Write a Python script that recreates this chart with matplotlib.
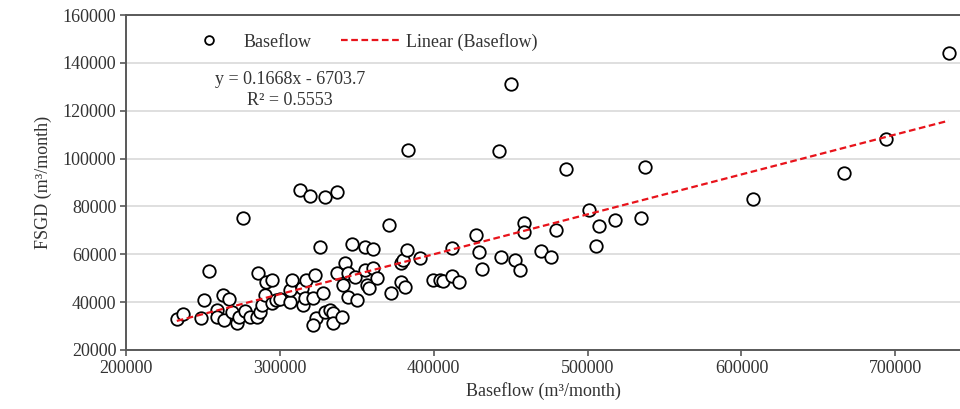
import numpy as np
import matplotlib
matplotlib.use("Agg")
import matplotlib.pyplot as plt

# scatter data (m3/month)
baseflow = [
    233000, 237000, 249000, 251000, 254000, 259000, 259000, 263000, 264000, 267000,
    268600, 272000, 273600, 276200, 277300, 280500, 285300, 287000, 285900, 288100,
    290300, 291300, 294600, 294600, 297800, 300000, 306500, 306500, 307600, 314100,
    315100, 316200, 317300, 321600, 322700, 328100, 313400, 319500, 329200, 336800,
    326000, 323800, 321600, 329200, 332500, 334600, 334600, 340100, 336800, 341100,
    342200, 344400, 344400, 346600, 348700, 349800, 355200, 355200, 356700, 358000,
    360200, 360600, 363200, 370900, 371900, 379000, 379000, 379700, 381200, 382300,
    383300, 390900, 399500, 403900, 406000, 412100, 412100, 416400, 427300, 429400,
    431600, 442400, 443900, 450000, 452600, 456300, 458600, 458600, 470000, 476400,
    479200, 485700, 500900, 505200, 507300, 517500, 534900, 537000, 607400, 666600,
    694000, 734600,
]
fsgd = [
    33000, 34900, 33500, 40900, 53100, 36700, 33900, 43000, 32500, 41200,
    36000, 31400, 33900, 75000, 36300, 33900, 33900, 36000, 52300, 38800,
    43000, 48300, 49300, 39500, 40900, 41200, 40200, 45100, 49300, 45800,
    38800, 41600, 49300, 41600, 51300, 43700, 86900, 84400, 84100, 86200,
    63200, 33200, 30400, 36000, 36700, 35300, 31100, 33900, 52000, 47200,
    56200, 52000, 42300, 64300, 50600, 40900, 53400, 63200, 47200, 45800,
    62100, 54100, 50000, 72200, 43900, 56500, 48500, 57600, 46500, 61800,
    103600, 58500, 49300, 49300, 48800, 50900, 62500, 48300, 68100, 60800,
    53700, 103300, 59000, 131200, 57600, 53400, 73200, 69400, 61500, 59000,
    70100, 95500, 78500, 63500, 71800, 74300, 75000, 96300, 83000, 93800,
    108000, 144000,
]

slope = 0.1668
intercept = -6703.7
r2 = 0.5553

plt.rcParams['font.family'] = ['Liberation Serif', 'DejaVu Serif']
txt_col = '#333333'

fig = plt.figure(figsize=(9.6, 4.09), dpi=100)
ax = fig.add_axes([126 / 960, 59 / 409, 834 / 960, 335 / 409])

ax.plot(baseflow, fsgd, linestyle='none', marker='o', markersize=9,
        markerfacecolor='white', markeredgecolor='black', markeredgewidth=1.3,
        label='Baseflow', zorder=3)

xl = np.array([min(baseflow), max(baseflow)])
ax.plot(xl, slope * xl + intercept, color='#e8131b', linestyle=(0, (3, 1.6)),
        linewidth=1.6, label='Linear (Baseflow)', zorder=4)

ax.set_xlim(200000, 742000)
ax.set_ylim(20000, 160000)
ax.set_xticks(range(200000, 700001, 100000))
ax.set_yticks(range(20000, 160001, 20000))
ax.grid(axis='y', color='#d9d9d9', linewidth=1.2, zorder=0)
ax.set_axisbelow(True)

for side in ['left', 'bottom', 'top']:
    ax.spines[side].set_color('#595959')
    ax.spines[side].set_linewidth(1.4)
ax.spines['right'].set_visible(False)
ax.tick_params(axis='both', direction='out', length=4, width=1.2, color='#595959',
               labelsize=13, labelcolor=txt_col, pad=3)

ax.set_xlabel('Baseflow (m³/month)', fontsize=13, color=txt_col, labelpad=4)
ax.set_ylabel('FSGD (m³/month)', fontsize=13, color=txt_col, labelpad=8)

leg = ax.legend(loc='upper left', bbox_to_anchor=(0.044, 0.995), ncol=2, frameon=False,
                fontsize=13, handlelength=3.3, columnspacing=1.6, handletextpad=0.3,
                markerscale=0.7)
for t in leg.get_texts():
    t.set_color(txt_col)

ax.text(0.197, 0.806, f'y = {slope}x - {-intercept}', transform=ax.transAxes,
        fontsize=13, color=txt_col, ha='center', va='center')
ax.text(0.197, 0.746, f'R² = {r2}', transform=ax.transAxes,
        fontsize=13, color=txt_col, ha='center', va='center')

fig.savefig('out.png', dpi=100)
